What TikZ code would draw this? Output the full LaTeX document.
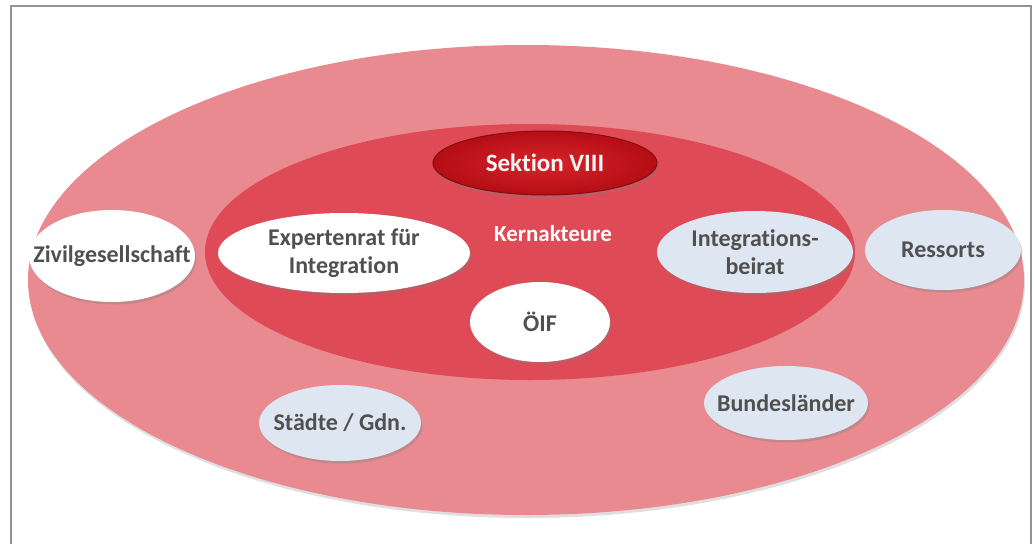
\documentclass[tikz,border=0pt]{standalone}
\usepackage{fontspec}
\setmainfont{Carlito}[Ligatures=NoCommon]
\usepackage{tikz}
\usetikzlibrary{shapes.geometric, shadows}

\definecolor{ringout}{RGB}{232,138,144}
\definecolor{ringin}{RGB}{222,74,86}
\definecolor{sekred}{RGB}{212,16,24}
\definecolor{paleblue}{RGB}{221,230,241}
\definecolor{txtgray}{RGB}{80,80,80}

\tikzset{
  blob/.style={ellipse, inner xsep=-45pt, inner ysep=-12pt, align=center, text=txtgray,
    font=\fontsize{24}{28}\selectfont\bfseries,
    drop shadow={shadow xshift=1.5pt, shadow yshift=-2.5pt, opacity=0.35}},
  actor/.style={blob, fill=white},
  partner/.style={blob, fill=paleblue},
}

\begin{document}
\begin{tikzpicture}[x=1pt, y=-1pt]
  \useasboundingbox (0,0) rectangle (1034,544);
  % frame, open at the bottom
  \draw[gray!85, line width=2.5pt] (11,544) -- (11,6) -- (1031,6) -- (1031,544);

  % rings
  \node[ellipse, fill=ringout, minimum width=996pt, minimum height=470pt,
    drop shadow={shadow xshift=1pt, shadow yshift=-3pt, opacity=0.25}] (outer) at (526,280) {};
  \node[ellipse, fill=ringin, minimum width=650pt, minimum height=256pt] (kern) at (530,252) {};
  \node[font=\fontsize{23}{26}\selectfont\bfseries, text=white] (kernlabel) at (553,234) {Kernakteure};

  % core
  \node[ellipse, inner xsep=-30pt, inner ysep=-8pt, minimum width=224pt, minimum height=64pt,
    draw=sekred!65!black, line width=1pt, inner color=sekred!92!white, outer color=sekred!85!black,
    font=\fontsize{25}{28}\selectfont\bfseries, text=white!92!gray,
    drop shadow={shadow xshift=1pt, shadow yshift=-3pt, opacity=0.4}] (sektion) at (545,163) {Sektion VIII};

  \node[actor, minimum width=252pt, minimum height=80pt] (experten) at (344,253) {Expertenrat für\\Integration};
  \node[partner, minimum width=196pt, minimum height=82pt] (beirat) at (755,252) {Integrations-\\beirat};
  \node[actor, minimum width=140pt, minimum height=80pt] (oeif) at (540,322) {ÖIF};

  % partners around
  \node[actor, minimum width=166pt, minimum height=92pt] (zivil) at (112,256) {Zivilgesellschaft};
  \node[partner, minimum width=156pt, minimum height=80pt] (ressorts) at (943,250) {Ressorts};
  \node[partner, minimum width=162pt, minimum height=76pt] (staedte) at (340,423) {Städte / Gdn.};
  \node[partner, minimum width=164pt, minimum height=74pt] (laender) at (786,403) {Bundesländer};
\end{tikzpicture}
\end{document}
